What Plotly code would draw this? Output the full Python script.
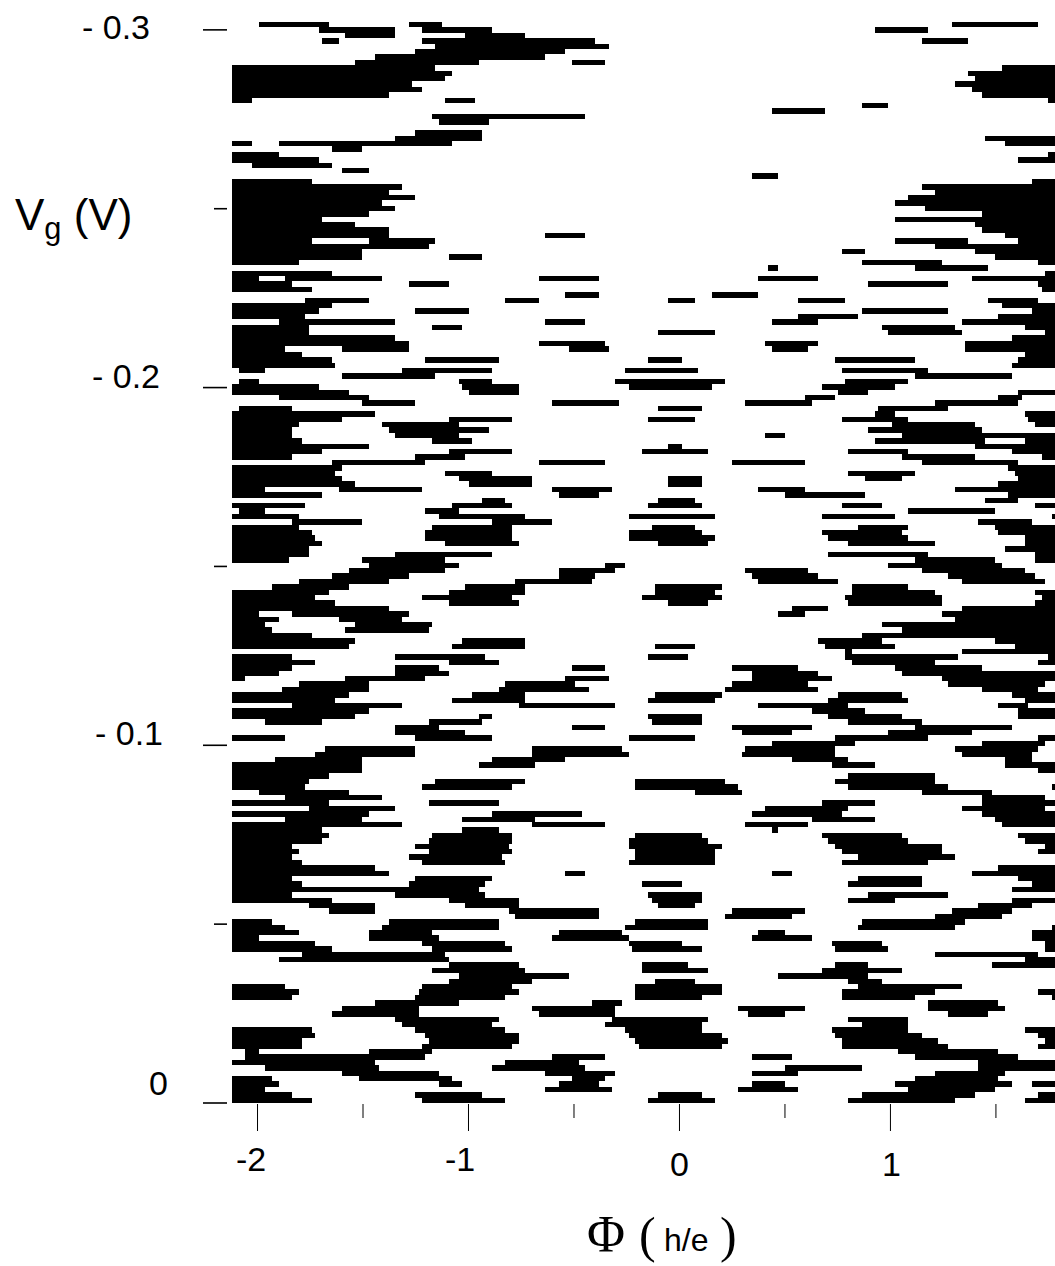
import numpy as np
import plotly.graph_objects as go

# Conductance map, thresholded to black and white.
# Each row (0 = most negative Vg) lists the black intervals as sample indices along the flux axis.
N_SAMPLES = 247
N_ROWS = 200
PHI_MIN, PHI_MAX = -2.121, 1.78
VG_MIN, VG_MAX = -0.3022, 0.0
ROW_RUNS = {
0:[(8,29),(53,63),(216,242)],1:[(26,49),(57,78),(193,209)],2:[(34,49),(70,88)],3:[(27,32),(57,109),(207,221)],
4:[(61,113)],5:[(55,100)],6:[(43,94)],7:[(37,74),(102,112)],8:[(0,61),(231,247)],9:[(0,66),(221,247)],
10:[(0,64),(223,247)],11:[(0,54),(217,247)],12:[(0,57),(222,247)],13:[(0,47),(225,247)],14:[(0,6),(64,73),(245,247)],
15:[(189,197)],16:[(162,178)],17:[(60,106)],18:[(62,77)],19:[],20:[(55,75)],21:[(49,75),(226,247)],
22:[(0,6),(14,66),(232,247)],23:[(30,39)],24:[(0,14),(245,247)],25:[(0,26),(236,247)],26:[(6,30)],27:[(33,41)],
28:[(156,164)],29:[(0,24),(240,247)],30:[(0,51),(207,247)],31:[(0,47),(211,247)],32:[(0,55),(203,247)],
33:[(0,45),(199,247)],34:[(0,49),(208,247)],35:[(0,41),(225,247)],36:[(0,27),(199,247)],37:[(0,37),(223,247)],
38:[(0,47),(225,247)],39:[(0,47),(94,106),(232,247)],40:[(0,24),(41,61),(199,221),(236,247)],41:[(0,59),(211,247)],
42:[(0,39),(183,190),(223,247)],43:[(0,39),(65,75),(229,247)],44:[(0,20),(189,213),(242,247)],45:[(161,164),(205,227)],
46:[(0,30),(244,247)],47:[(0,8),(16,45),(92,110),(158,176),(222,247)],48:[(0,18),(53,65),(191,215),(242,247)],
49:[(0,24),(243,247)],
50:[(100,110),(144,158)],51:[(22,41),(82,92),(131,139),(170,184),(227,242)],52:[(0,30),(231,247)],
53:[(0,26),(55,71),(189,215),(240,247)],54:[(0,22),(170,188),(230,247)],55:[(14,49),(94,106),(162,176),(219,247)],
56:[(0,23),(60,69),(195,217),(238,247)],57:[(0,23),(128,145),(197,219),(244,247)],58:[(0,49),(234,247)],
59:[(0,53),(92,112),(160,176),(220,247)],60:[(0,16),(33,53),(101,113),(162,173),(220,247)],61:[(0,21),(238,247)],
62:[(0,30),(58,80),(125,135),(181,205),(236,247)],63:[(0,31),(234,247)],64:[(2,10),(51,78),(118,140),(183,209)],
65:[(33,61),(205,234)],66:[(2,8),(68,78),(115,148),(184,203)],67:[(0,26),(69,86),(119,144),(177,199)],
68:[(0,35),(71,86),(182,191),(236,247)],69:[(14,41),(172,181),(230,237)],70:[(39,55),(96,116),(154,174),(211,236)],
71:[(2,18),(128,141),(194,215)],72:[(0,43),(193,199),(238,247)],73:[(0,33),(65,84),(125,139),(183,203),(239,247)],
74:[(0,20),(45,68),(198,223),(241,247)],75:[(0,18),(47,77),(191,225)],76:[(0,18),(49,68),(160,166),(201,247)],
77:[(0,21),(60,72),(193,226),(238,247)],78:[(0,41),(131,135),(223,247)],79:[(0,27),(65,84),(123,143),(185,203),(234,247)],
80:[(0,18),(55,70),(201,223),(243,247)],81:[(30,58),(92,112),(150,172),(207,236)],82:[(0,33),(233,247)],
83:[(0,31),(64,78),(185,205),(235,247)],84:[(0,33),(68,90),(131,141),(190,201),(236,247)],85:[(0,37),(71,90),(131,141),(230,247)],
86:[(0,10),(32,57),(96,114),(158,172),(217,247)],87:[(0,27),(98,110),(166,190),(233,247)],88:[(75,82),(128,139),(226,236)],
89:[(0,22),(66,84),(125,141),(183,195),(241,247)],90:[(2,10),(58,68),(203,229)],91:[(0,20),(62,88),(119,145),(177,199),(246,247)],
92:[(18,39),(78,96),(224,240)],93:[(0,20),(60,84),(126,139),(188,203),(229,247)],94:[(0,24),(58,84),(119,141),(177,201),(230,247)],
95:[(0,25),(58,84),(119,145),(179,203),(238,247)],96:[(0,27),(64,86),(128,143),(185,211),(238,247)],97:[(0,23),(232,247)],
98:[(0,23),(49,78),(179,209),(241,247)],99:[(0,17),(39,64),(205,229),(241,247)],
100:[(41,68),(112,118),(197,231)],101:[(35,64),(98,115),(154,173),(207,238)],102:[(30,53),(98,109),(156,176),(215,241)],
103:[(20,47),(85,108),(158,182),(219,244)],104:[(12,35),(70,88),(127,147),(186,203)],105:[(0,29),(65,88),(127,145),(186,211),(241,247)],
106:[(0,25),(57,84),(123,147),(184,213),(243,247)],107:[(0,31),(65,86),(131,143),(185,213),(241,247)],108:[(0,47),(168,179),(219,247)],
109:[(0,8),(18,53),(164,172),(213,247)],110:[(0,14),(32,51),(217,247)],111:[(0,10),(37,60),(195,247)],112:[(0,12),(34,59),(201,247)],
113:[(0,24),(189,247)],114:[(0,37),(69,88),(176,195),(229,247)],115:[(0,35),(66,88),(127,139),(178,199),(235,247)],
116:[(184,186),(219,247)],117:[(0,18),(49,76),(125,137),(184,218),(245,247)],118:[(0,25),(65,80),(186,211),(242,247)],
119:[(0,18),(49,62),(102,112),(150,170),(199,225)],120:[(0,14),(49,65),(156,176),(201,247)],
121:[(0,4),(34,58),(100,113),(156,180),(213,247)],122:[(20,41),(82,103),(150,173),(215,244)],123:[(15,41),(80,107),(148,176),(225,242)],
124:[(0,35),(72,88),(127,147),(182,201),(234,247)],125:[(0,31),(66,88),(125,145),(179,203),(238,247)],
126:[(18,51),(86,115),(158,185),(230,239)],127:[(0,41),(174,190),(236,247)],128:[(0,37),(74,78),(125,141),(179,201),(236,247)],
129:[(10,27),(59,75),(126,141),(185,207)],130:[(49,62),(102,112),(150,174),(205,234)],131:[(49,70),(153,168),(197,222)],
132:[(0,16),(55,78),(119,139),(181,209),(242,247)],133:[(162,187),(225,244)],134:[(28,55),(90,117),(154,181),(217,242)],
135:[(25,55),(90,119),(153,181),(219,240)],136:[(13,39),(78,100),(168,185),(232,240)],137:[(0,39),(74,91),(180,193),(232,247)],
138:[(0,39),(242,247)],139:[(0,29),(185,211)],140:[(0,23),(61,88),(121,148),(181,211)],141:[(0,22),(57,84),(121,152),(185,215),(246,247)],
142:[(8,35),(139,153),(207,228)],143:[(16,45),(225,244)],144:[(0,29),(59,80),(177,193),(225,247)],145:[(23,49),(160,185),(219,244)],
146:[(0,41),(78,105),(156,183),(225,247)],147:[(16,39),(69,91),(174,193),(229,247)],148:[(0,51),(90,112),(154,173),(231,247)],
149:[(0,27),(69,80),(162,164)],
150:[(0,29),(60,84),(121,141),(177,201),(236,247)],151:[(0,27),(59,84),(119,143),(179,203),(238,247)],
152:[(0,18),(55,83),(119,147),(181,213),(244,247)],153:[(0,20),(59,84),(121,145),(183,213),(242,247)],
154:[(0,18),(53,81),(121,145),(188,217)],155:[(0,21),(57,82),(119,145),(183,209)],156:[(0,43),(230,247)],
157:[(0,47),(100,106),(162,168),(222,247)],158:[(0,18),(55,78),(188,207),(236,247)],159:[(0,21),(53,76),(123,135),(185,207),(240,247)],
160:[(0,74),(234,247)],161:[(0,18),(49,76),(125,141),(191,215)],162:[(0,30),(65,86),(126,141),(185,199),(234,247)],
163:[(23,43),(70,86),(128,139),(224,240)],164:[(29,43),(83,110),(150,172),(216,234)],165:[(85,110),(148,168),(211,231)],
166:[(0,12),(47,80),(121,143),(189,220)],167:[(0,16),(45,80),(118,143),(188,217),(246,247)],168:[(0,20),(41,60),(98,117),(158,166),(240,247)],
169:[(0,8),(41,62),(96,119),(156,174),(240,247)],170:[(0,25),(57,82),(119,135),(180,195),(244,247)],171:[(0,30),(60,84),(120,141),(181,197),(244,247)],
172:[(21,64),(211,242)],173:[(14,65),(238,247)],174:[(65,86),(123,137),(181,191),(228,247)],175:[(60,88),(123,143),(177,201)],
176:[(68,101),(164,191)],177:[(65,90),(127,139),(185,195)],178:[(0,16),(57,84),(121,147),(188,219)],179:[(0,20),(56,86),(121,147),(183,211),(242,247)],
180:[(0,18),(55,82),(121,141),(183,205),(246,247)],181:[(43,68),(108,117),(209,230)],182:[(33,56),(90,115),(152,172),(209,232)],
183:[(30,56),(92,115),(155,166),(215,227)],184:[(49,80),(114,143),(185,203)],185:[(51,78),(112,141),(189,203)],
186:[(0,24),(55,82),(118,141),(180,203),(238,247)],187:[(0,25),(58,86),(119,147),(181,207),(242,247)],
188:[(0,21),(59,86),(121,149),(183,212),(244,247)],189:[(0,21),(57,84),(122,147),(183,215),(242,247)],190:[(4,8),(41,60),(200,230)],
191:[(4,58),(96,112),(156,168),(205,236)],192:[(0,43),(82,104),(224,247)],193:[(10,44),(78,106),(166,189),(224,247)],
194:[(33,62),(94,115),(156,170),(211,232)],195:[(0,12),(38,66),(102,112),(205,230)],196:[(0,14),(62,69),(98,110),(156,166),(199,234),(240,247)],
197:[(0,10),(94,114),(152,170),(203,229)],198:[(0,18),(55,75),(128,141),(189,223),(242,247)],199:[(0,24),(57,82),(125,145),(185,217),(238,247)],
}
PHI_MAJOR = [-2, -1, 0, 1]
PHI_MINOR = [-1.5, -0.5, 0.5, 1.5]
VG_MAJOR = [-0.3, -0.2, -0.1, 0.0]
VG_MINOR = [-0.25, -0.15, -0.05]

phi = PHI_MIN + (np.arange(N_SAMPLES) + 0.5) * (PHI_MAX - PHI_MIN) / N_SAMPLES
vg = VG_MIN + (np.arange(N_ROWS) + 0.5) * (VG_MAX - VG_MIN) / N_ROWS
z = np.zeros((N_ROWS, N_SAMPLES), dtype=int)
for r, runs in ROW_RUNS.items():
    for a, b in runs:
        z[r, a:b] = 1

fig = go.Figure(go.Heatmap(x=phi, y=vg, z=z, zmin=0, zmax=1, showscale=False,
                           colorscale=[[0, "white"], [1, "black"]], hoverinfo="skip"))

# Tick marks stand clear of the image, so they are drawn on the paper from the axis values.
def frac_x(v):
    return (v - PHI_MIN) / (PHI_MAX - PHI_MIN)
def frac_y(v):
    return (VG_MAX - v) / (VG_MAX - VG_MIN)

shapes = []
for v, ln in [(p, 28) for p in PHI_MAJOR] + [(p, 15) for p in PHI_MINOR]:
    shapes.append(dict(type="line", xref="paper", yref="paper", ysizemode="pixel", yanchor=0,
                       x0=frac_x(v), x1=frac_x(v), y0=-1, y1=-ln, line=dict(color="black", width=1)))
for v, ln in [(p, 29) for p in VG_MAJOR] + [(p, 18) for p in VG_MINOR]:
    shapes.append(dict(type="line", xref="paper", yref="paper", xsizemode="pixel", xanchor=0,
                       y0=frac_y(v), y1=frac_y(v), x0=-5, x1=-ln, line=dict(color="black", width=1.6)))

SANS = "Liberation Sans"
SERIF = "Liberation Serif"
def label(text, px, py, size=34, family=SANS):
    return dict(text=text, xref="paper", yref="paper", showarrow=False, xanchor="center", yanchor="middle",
                x=(px - 232) / 823, y=(1103 - py) / 1081, font=dict(family=family, size=size, color="black"))

annotations = [
    label("- 0.3", 116.5, 27), label("- 0.2", 126, 376), label("- 0.1", 128.5, 733), label("0", 158, 1083),
    label("-2", 251, 1159), label("-1", 460, 1159), label("0", 679, 1164), label("1", 891, 1164),
    label("V<sub>g</sub> (V)", 73, 218, 44),
    label("Φ", 606, 1234, 52, SERIF), label("(", 647, 1235, 50, SERIF),
    label("h/e", 686, 1240, 32), label(")", 728, 1235, 50, SERIF),
]

fig.update_layout(
    width=1055, height=1266, autosize=False, margin=dict(l=232, r=0, t=22, b=163, pad=0),
    paper_bgcolor="white", plot_bgcolor="white", shapes=shapes, annotations=annotations,
    xaxis=dict(range=[PHI_MIN, PHI_MAX], visible=False),
    yaxis=dict(range=[VG_MAX, VG_MIN], visible=False),
)
fig.write_html("out.html", config={"displayModeBar": False},
               post_script="document.body.style.margin='0';document.body.style.overflow='hidden';")
